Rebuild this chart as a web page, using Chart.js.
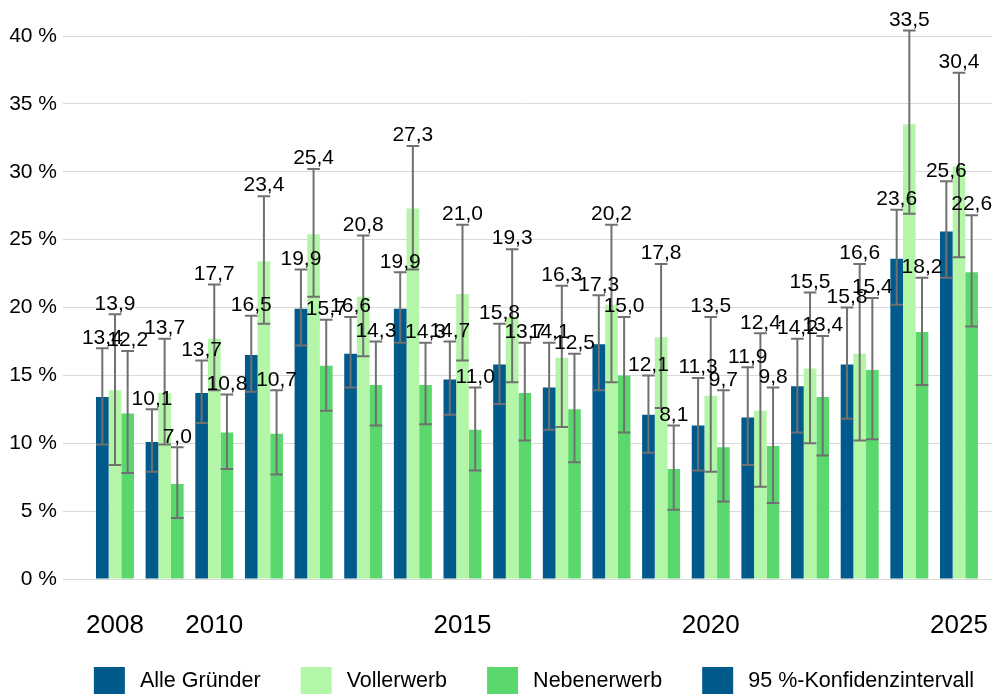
<!DOCTYPE html>
<html>
<head>
<meta charset="utf-8">
<script src="https://cdn.jsdelivr.net/npm/chart.js@4.4.0/dist/chart.umd.min.js"></script>
<style>
html,body{margin:0;padding:0;background:#fff}
#wrap{width:992px;height:694px}
</style>
</head>
<body>
<div id="wrap"><canvas id="c" width="992" height="694"></canvas></div>
<script>
// ---- data ----
const years = [2008,2009,2010,2011,2012,2013,2014,2015,2016,2017,2018,2019,2020,2021,2022,2023,2024,2025];
const xTickYears = [2008,2010,2015,2020,2025];
const yTicks = [0,5,10,15,20,25,30,35,40];
const seriesNames = ['Alle Gründer','Vollerwerb','Nebenerwerb'];
const ciLabel = '95 %-Konfidenzintervall';

const alle    = [13.4,10.1,13.7,16.5,19.9,16.6,19.9,14.7,15.8,14.1,17.3,12.1,11.3,11.9,14.2,15.8,23.6,25.6];
const alleLo  = [9.9,7.9,11.5,13.8,17.2,14.1,17.4,12.1,12.9,11.0,13.9,9.3,8.0,8.4,10.8,11.8,20.2,22.2];
const alleHi  = [17.0,12.5,16.1,19.4,22.8,19.3,22.6,17.5,18.8,17.4,20.9,15.0,14.8,15.6,17.7,20.0,27.2,29.3];

const voll    = [13.9,13.7,17.7,23.4,25.4,20.8,27.3,21.0,19.3,16.3,20.2,17.8,13.5,12.4,15.5,16.6,33.5,30.4];
const vollLo  = [8.4,9.9,13.9,18.8,20.8,16.4,22.8,16.1,14.5,11.2,14.5,12.6,7.9,6.8,10.0,10.2,26.9,23.7];
const vollHi  = [19.5,17.7,21.7,28.2,30.2,25.3,31.9,26.1,24.3,21.6,26.1,23.2,19.3,18.1,21.1,23.2,40.4,37.3];

const neben   = [12.2,7.0,10.8,10.7,15.7,14.3,14.3,11.0,13.7,12.5,15.0,8.1,9.7,9.8,13.4,15.4,18.2,22.6];
const nebenLo = [7.8,4.5,8.1,7.7,12.4,11.3,11.4,8.0,10.2,8.6,10.8,5.1,5.7,5.6,9.1,10.3,14.3,18.6];
const nebenHi = [16.8,9.7,13.6,13.9,19.1,17.5,17.4,14.1,17.4,16.6,19.3,11.3,13.9,14.1,17.9,20.7,22.2,26.8];

// ---- styles ----
const colAlle = '#005a8c';
const colVoll = '#b4f6a8';
const colNeben = '#5ad86e';
const FONT = "'Liberation Sans', Arial, sans-serif";

Chart.defaults.font.family = FONT;
Chart.defaults.color = '#000';

const toPts = arr => years.map((yr, i) => ({x: yr, y: arr[i]}));
const fmt = v => v.toFixed(1).replace('.', ',');

const errorBarPlugin = {
  id: 'errorBars',
  afterDatasetsDraw(chart) {
    const ctx = chart.ctx;
    const ys = chart.scales.y;
    ctx.save();
    ctx.strokeStyle = '#707070';
    ctx.lineWidth = 2;
    chart.data.datasets.forEach((ds, d) => {
      const meta = chart.getDatasetMeta(d);
      meta.data.forEach((bar, i) => {
        const lo = ys.getPixelForValue(ds.errLo[i]);
        const hi = ys.getPixelForValue(ds.errHi[i]);
        const half = bar.width / 2;
        ctx.beginPath();
        ctx.moveTo(bar.x, lo); ctx.lineTo(bar.x, hi);
        ctx.moveTo(bar.x - half, lo); ctx.lineTo(bar.x + half, lo);
        ctx.moveTo(bar.x - half, hi); ctx.lineTo(bar.x + half, hi);
        ctx.stroke();
      });
    });
    ctx.fillStyle = '#000';
    ctx.font = "21px " + FONT;
    ctx.textAlign = 'center';
    ctx.textBaseline = 'bottom';
    chart.data.datasets.forEach((ds, d) => {
      const meta = chart.getDatasetMeta(d);
      meta.data.forEach((bar, i) => {
        const hi = ys.getPixelForValue(ds.errHi[i]);
        ctx.fillText(fmt(ds.data[i].y), bar.x, hi);
      });
    });
    ctx.restore();
  }
};

const layoutTweak = {
  id: 'layoutTweak',
  afterLayout(chart) {
    const l = chart.legend;
    if (l) {
      l.left += 38; l.right += 38;
      l.top += 11; l.bottom += 11;
    }
    const xs = chart.scales.x;
    xs.bottom = xs.top + 80;
  }
};

new Chart(document.getElementById('c'), {
  type: 'bar',
  data: {
    datasets: [
      {label: seriesNames[0], data: toPts(alle), errLo: alleLo, errHi: alleHi, backgroundColor: colAlle},
      {label: seriesNames[1], data: toPts(voll), errLo: vollLo, errHi: vollHi, backgroundColor: colVoll},
      {label: seriesNames[2], data: toPts(neben), errLo: nebenLo, errHi: nebenHi, backgroundColor: colNeben}
    ]
  },
  options: {
    responsive: false,
    animation: false,
    events: [],
    layout: {padding: {top: 36, left: 0, right: 0, bottom: 0}},
    datasets: {bar: {categoryPercentage: 0.765, barPercentage: 1, borderWidth: 0}},
    scales: {
      x: {
        type: 'linear',
        offset: false,
        min: 2006.953,
        max: 2025.665,
        grid: {display: false, drawTicks: false},
        border: {display: false},
        afterBuildTicks: s => { s.ticks = xTickYears.map(v => ({value: v})); },
        ticks: {padding: 31, font: {size: 26}, color: '#000', autoSkip: false, maxRotation: 0, callback: v => String(v)},
        afterFit: s => { s.height = 37; s.paddingLeft = 0; s.paddingRight = 0; }
      },
      y: {
        min: 0,
        max: 40,
        afterBuildTicks: s => { s.ticks = yTicks.map(v => ({value: v})); },
        grid: {color: '#d9d9d9', drawTicks: false},
        border: {display: false},
        ticks: {padding: 6, font: {size: 21}, color: '#000', callback: v => v + ' %'},
        afterFit: s => { s.width = 63; }
      }
    },
    plugins: {
      tooltip: {enabled: false},
      legend: {
        position: 'bottom',
        align: 'center',
        labels: {
          boxWidth: 31,
          boxHeight: 28,
          padding: 40,
          color: '#000',
          font: {size: 21.5},
          generateLabels: chart => {
            const items = Chart.defaults.plugins.legend.labels.generateLabels(chart);
            items.push({text: ciLabel, fillStyle: colAlle, strokeStyle: colAlle, lineWidth: 0, hidden: false, datasetIndex: -1});
            items.forEach(it => { it.text = '\u2009' + it.text; });
            return items;
          }
        }
      }
    }
  },
  plugins: [errorBarPlugin, layoutTweak]
});
</script>
</body>
</html>
